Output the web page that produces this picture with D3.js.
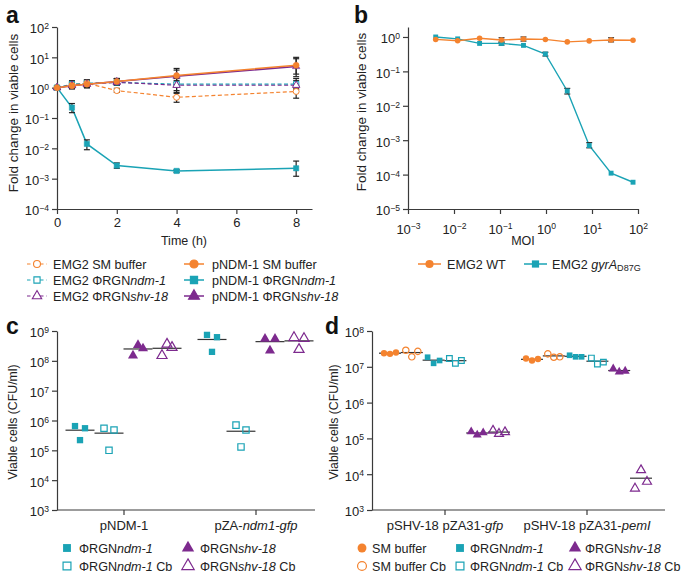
<!DOCTYPE html>
<html><head><meta charset="utf-8">
<script src="https://cdn.jsdelivr.net/npm/d3@7"></script>
<style>body{margin:0;background:#fff}svg{font-family:"Liberation Sans",Arial,Helvetica,sans-serif}</style>
</head><body>
<script>
// ---------- DATA ----------
// Panel a
const timeH = [0, 0.5, 1, 2, 4, 8];
const aEmg2SM    = [1, 1.2, 1.4, 0.8, 0.48, 0.75];
const aEmg2SMlo  = [1, 0.9, 1.0, 0.7, 0.33, 0.45];
const aEmg2SMhi  = [1, 1.6, 1.8, 0.95, 0.7, 1.2];
const aEmg2Ndm   = [1, 1.3, 1.4, 1.5, 1.3, 1.3];
const aEmg2NdmLo = [1, 1.0, 1.0, 1.2, 0.65, 0.9];
const aEmg2NdmHi = [1, 1.7, 1.8, 2.0, 2.0, 2.0];
const aEmg2Shv   = [1, 1.2, 1.3, 1.5, 1.2, 1.2];
const aEmg2ShvLo = [1, 0.95, 1.0, 1.2, 0.8, 0.9];
const aEmg2ShvHi = [1, 1.5, 1.7, 1.9, 1.7, 1.7];
const aPndmSM    = [1, 1.15, 1.3, 1.6, 2.5, 5.5];
const aPndmSMlo  = [1, 1.0, 1.1, 1.3, 1.5, 2.8];
const aPndmSMhi  = [1, 1.4, 1.6, 2.0, 4.3, 10];
const aPndmNdm   = [1, 0.22, 0.014, 0.0027, 0.0018, 0.0022];
const aPndmNdmLo = [1, 0.15, 0.009, 0.0022, 0.0016, 0.0012];
const aPndmNdmHi = [1, 0.3, 0.019, 0.0033, 0.002, 0.0038];
const aPndmShv   = [1, 1.15, 1.3, 1.6, 2.4, 5.0];
const aPndmShvLo = [1, 1.0, 1.1, 1.3, 1.3, 2.3];
const aPndmShvHi = [1, 1.4, 1.6, 2.0, 3.8, 9];
const aYTicks = [-4, -3, -2, -1, 0, 1, 2];
const aXTicks = [0, 2, 4, 6, 8];

// Panel b
const moi = [0.004, 0.012, 0.036, 0.108, 0.324, 0.97, 2.9, 8.7, 26, 78];
const bWT   = [0.85, 0.78, 0.92, 0.82, 0.87, 0.85, 0.72, 0.77, 0.82, 0.8];
const bWTlo = [null, null, null, 0.7, 0.76, null, null, null, 0.72, null];
const bWThi = [null, null, null, 0.95, 1.0, null, null, null, 0.95, null];
const bGyr   = [1.0, 0.88, 0.65, 0.65, 0.57, 0.32, 0.027, 0.0007, 0.00011, 0.00006];
const bGyrLo = [null, null, null, 0.58, null, 0.28, 0.022, 0.0006, null, null];
const bGyrHi = [null, null, null, 0.72, null, 0.36, 0.032, 0.00085, null, null];
const bYTicks = [-5, -4, -3, -2, -1, 0];
const bXTicks = [-3, -2, -1, 0, 1, 2];

// Panel c
const cCategories = ["pNDM-1", "pZA-ndm1-gfp"];
const cGroups = ["ΦRGNndm-1", "ΦRGNndm-1 Cb", "ΦRGNshv-18", "ΦRGNshv-18 Cb"];
const cNdm   = [[6.5e5, 2.2e5, 5.5e5], [7.4e8, 2.0e8, 6.2e8]];
const cNdmCb = [[5.5e5, 1.0e5, 4.8e5], [7.0e5, 1.3e5, 4.8e5]];
const cShv   = [[1.5e8, 3.4e8, 2.6e8], [5.5e8, 2.2e8, 5.5e8]];
const cShvCb = [[1.5e8, 3.6e8, 2.8e8], [6.0e8, 2.4e8, 5.6e8]];
const cYTicks = [3, 4, 5, 6, 7, 8, 9];

// Panel d
const dCategories = ["pSHV-18 pZA31-gfp", "pSHV-18 pZA31-pemI"];
const dGroups = ["SM buffer", "SM buffer Cb", "ΦRGNndm-1", "ΦRGNndm-1 Cb", "ΦRGNshv-18", "ΦRGNshv-18 Cb"];
const dSM    = [[2.4e7, 2.3e7, 2.5e7], [1.7e7, 1.5e7, 1.65e7]];
const dSMCb  = [[2.9e7, 1.9e7, 2.7e7], [2.3e7, 1.85e7, 1.9e7]];
const dNdm   = [[1.85e7, 1.25e7, 1.5e7], [2.1e7, 1.9e7, 1.9e7]];
const dNdmCb = [[1.7e7, 1.25e7, 1.5e7], [1.75e7, 1.2e7, 1.35e7]];
const dShv   = [[1.55e5, 1.25e5, 1.45e5], [8.8e6, 7.2e6, 7.6e6]];
const dShvCb = [[1.65e5, 1.35e5, 1.5e5], [4.0e3, 1.3e4, 6.2e3]];
const dYTicks = [3, 4, 5, 6, 7, 8];

// ---------- STYLE ----------
const ORANGE = "#f4832f", TEAL = "#1aa3b5", PURPLE = "#7d2a8e", AX = "#3a3a3a";
const FS = 13, LFS = 12.6;

const svg = d3.select("body").append("svg").attr("width", 684).attr("height", 576);

function supLabel(sel, exp) {
  sel.text(null);
  sel.append("tspan").text("10");
  sel.append("tspan").attr("dy", "-0.5em").attr("font-size", "0.66em").text(exp < 0 ? "−" + (-exp) : String(exp));
}
function styleAxis(g) {
  g.selectAll(".domain").attr("stroke", AX).attr("stroke-width", 1.2);
  g.selectAll(".tick line").attr("stroke", AX).attr("stroke-width", 1.2);
  g.selectAll(".tick text").attr("fill", "#222").attr("font-size", FS).attr("font-family", '"Liberation Sans",Arial,sans-serif');
}
function sym(type, size) { return d3.symbol().type(type).size(size)(); }
function richText(g, x, y, parts, opts = {}) {
  const t = g.append("text").attr("x", x).attr("y", y).attr("font-size", opts.fs || LFS).attr("fill", "#222");
  if (opts.anchor) t.attr("text-anchor", opts.anchor);
  parts.forEach(p => {
    const s = t.append("tspan").text(p.t);
    if (p.i) s.attr("font-style", "italic");
    if (p.sub) s.attr("font-size", "0.72em").attr("dy", "0.3em");
  });
  return t;
}
function panelLabel(x, y, s) {
  svg.append("text").attr("x", x).attr("y", y).attr("font-size", 23).attr("font-weight", "bold").attr("fill", "#111").text(s);
}
function yTitle(x, y, s, fs) {
  svg.append("text").attr("transform", `translate(${x},${y}) rotate(-90)`).attr("text-anchor", "middle")
    .attr("font-size", fs).attr("fill", "#222").text(s);
}

// ---------- PANEL A ----------
{
  const g = svg.append("g");
  const x = d3.scaleLinear().domain([0, 8.53]).range([57, 312]);
  const y = d3.scaleLog().domain([1e-4, 1e2]).range([209, 27]);
  const yA = g.append("g").attr("transform", "translate(57,0)")
    .call(d3.axisLeft(y).tickValues(aYTicks.map(e => Math.pow(10, e))).tickSize(5).tickSizeOuter(0).tickPadding(3));
  yA.selectAll(".tick text").each(function (d) { supLabel(d3.select(this), Math.round(Math.log10(d))); });
  styleAxis(yA);
  yA.selectAll(".tick text").attr("dy", "0.45em");
  const xA = g.append("g").attr("transform", "translate(0,209)")
    .call(d3.axisBottom(x).tickValues(aXTicks).tickSize(5).tickSizeOuter(0).tickPadding(4));
  styleAxis(xA);
  g.append("text").attr("x", 184).attr("y", 245).attr("text-anchor", "middle").attr("font-size", 12.5).attr("fill", "#222").text("Time (h)");

  const series = [
    { v: aEmg2Ndm, lo: aEmg2NdmLo, hi: aEmg2NdmHi, c: TEAL, dash: true, s: d3.symbolSquare, open: true },
    { v: aEmg2Shv, lo: aEmg2ShvLo, hi: aEmg2ShvHi, c: PURPLE, dash: true, s: d3.symbolTriangle, open: true },
    { v: aEmg2SM, lo: aEmg2SMlo, hi: aEmg2SMhi, c: ORANGE, dash: true, s: d3.symbolCircle, open: true },
    { v: aPndmNdm, lo: aPndmNdmLo, hi: aPndmNdmHi, c: TEAL, dash: false, s: d3.symbolSquare, open: false },
    { v: aPndmShv, lo: aPndmShvLo, hi: aPndmShvHi, c: PURPLE, dash: false, s: d3.symbolTriangle, open: false },
    { v: aPndmSM, lo: aPndmSMlo, hi: aPndmSMhi, c: ORANGE, dash: false, s: d3.symbolCircle, open: false },
  ];
  const line = d3.line().x((d, i) => x(timeH[i])).y(d => y(d));
  series.forEach(s => {
    g.append("path").datum(s.v).attr("d", line).attr("fill", "none").attr("stroke", s.c)
      .attr("stroke-width", s.dash ? 1.2 : 1.5).attr("stroke-dasharray", s.dash ? "4,2.5" : null);
  });
  series.forEach(s => {
    timeH.forEach((t, i) => {
      if (i === 0) return;
      const xx = x(t);
      g.append("line").attr("x1", xx).attr("x2", xx).attr("y1", y(s.lo[i])).attr("y2", y(s.hi[i])).attr("stroke", "#222").attr("stroke-width", 1.2);
      [s.lo[i], s.hi[i]].forEach(v => g.append("line").attr("x1", xx - 3).attr("x2", xx + 3).attr("y1", y(v)).attr("y2", y(v)).attr("stroke", "#222").attr("stroke-width", 1.2));
    });
  });
  series.forEach(s => {
    g.selectAll(null).data(s.v).enter().append("path")
      .attr("transform", (d, i) => `translate(${x(timeH[i])},${y(d)})`)
      .attr("d", sym(s.s, s.s === d3.symbolTriangle ? 24 : 28))
      .attr("fill", s.open ? "#fff" : s.c).attr("stroke", s.c).attr("stroke-width", s.open ? 1 : 0.5);
  });

  // legend
  const lg = svg.append("g");
  const cols = [{ lx: 27, tx: 53 }, { lx: 184, tx: 212 }];
  const items = [
    { c: ORANGE, s: d3.symbolCircle, open: true, parts: [{ t: "EMG2 SM buffer" }] },
    { c: TEAL, s: d3.symbolSquare, open: true, parts: [{ t: "EMG2 ΦRGN" }, { t: "ndm-1", i: 1 }] },
    { c: PURPLE, s: d3.symbolTriangle, open: true, parts: [{ t: "EMG2 ΦRGN" }, { t: "shv-18", i: 1 }] },
    { c: ORANGE, s: d3.symbolCircle, open: false, parts: [{ t: "pNDM-1 SM buffer" }] },
    { c: TEAL, s: d3.symbolSquare, open: false, parts: [{ t: "pNDM-1 ΦRGN" }, { t: "ndm-1", i: 1 }] },
    { c: PURPLE, s: d3.symbolTriangle, open: false, parts: [{ t: "pNDM-1 ΦRGN" }, { t: "shv-18", i: 1 }] },
  ];
  items.forEach((it, k) => {
    const col = cols[Math.floor(k / 3)], yy = 264 + (k % 3) * 16;
    lg.append("line").attr("x1", col.lx).attr("x2", col.lx + 20).attr("y1", yy).attr("y2", yy).attr("stroke", it.c)
      .attr("stroke-width", it.open ? 1.2 : 1.5).attr("stroke-dasharray", it.open ? "3.5,3" : null);
    lg.append("path").attr("transform", `translate(${col.lx + 10},${yy})`).attr("d", sym(it.s, it.open ? 38 : 52))
      .attr("fill", it.open ? "#fff" : it.c).attr("stroke", it.c).attr("stroke-width", 1.1);
    richText(lg, col.tx, yy + 4.5, it.parts);
  });
}

// ---------- PANEL B ----------
{
  const g = svg.append("g");
  const x = d3.scaleLog().domain([1e-3, 1e2]).range([408, 638]);
  const y = d3.scaleLog().domain([1e-5, Math.pow(10, 0.29)]).range([209, 27]);
  const yA = g.append("g").attr("transform", "translate(408,0)")
    .call(d3.axisLeft(y).tickValues(bYTicks.map(e => Math.pow(10, e))).tickSize(5).tickSizeOuter(0).tickPadding(3));
  yA.selectAll(".tick text").each(function (d) { supLabel(d3.select(this), Math.round(Math.log10(d))); });
  styleAxis(yA);
  yA.selectAll(".tick text").attr("dy", "0.45em");
  const xA = g.append("g").attr("transform", "translate(0,209)")
    .call(d3.axisBottom(x).tickValues(bXTicks.map(e => Math.pow(10, e))).tickSize(5).tickSizeOuter(0).tickPadding(4));
  xA.selectAll(".tick text").each(function (d) { supLabel(d3.select(this), Math.round(Math.log10(d))); });
  styleAxis(xA);
  xA.selectAll(".tick text").attr("dy", "1.2em");
  g.append("text").attr("x", 523).attr("y", 245).attr("text-anchor", "middle").attr("font-size", 12.5).attr("fill", "#222").text("MOI");

  const line = d3.line().x((d, i) => x(moi[i])).y(d => y(d));
  const ser = [
    { v: bGyr, lo: bGyrLo, hi: bGyrHi, c: TEAL, s: d3.symbolSquare },
    { v: bWT, lo: bWTlo, hi: bWThi, c: ORANGE, s: d3.symbolCircle },
  ];
  ser.forEach(s => g.append("path").datum(s.v).attr("d", line).attr("fill", "none").attr("stroke", s.c).attr("stroke-width", 1.4));
  ser.forEach(s => moi.forEach((m, i) => {
    if (s.lo[i] == null) return;
    const xx = x(m);
    g.append("line").attr("x1", xx).attr("x2", xx).attr("y1", y(s.lo[i])).attr("y2", y(s.hi[i])).attr("stroke", "#333").attr("stroke-width", 1.2);
    [s.lo[i], s.hi[i]].forEach(v => g.append("line").attr("x1", xx - 3).attr("x2", xx + 3).attr("y1", y(v)).attr("y2", y(v)).attr("stroke", "#333").attr("stroke-width", 1.2));
  }));
  ser.forEach(s => g.selectAll(null).data(s.v).enter().append("path")
    .attr("transform", (d, i) => `translate(${x(moi[i])},${y(d)})`)
    .attr("d", sym(s.s, 24)).attr("fill", s.c));

  const lg = svg.append("g");
  const yy = 264;
  [{ lx: 418, tx: 447, c: ORANGE, s: d3.symbolCircle, parts: [{ t: "EMG2 WT" }] },
   { lx: 524, tx: 552, c: TEAL, s: d3.symbolSquare, parts: [{ t: "EMG2 " }, { t: "gyrA", i: 1 }, { t: "D87G", sub: 1 }] }]
    .forEach(it => {
      lg.append("line").attr("x1", it.lx).attr("x2", it.lx + 23).attr("y1", yy).attr("y2", yy).attr("stroke", it.c).attr("stroke-width", 1.5);
      lg.append("path").attr("transform", `translate(${it.lx + 11.5},${yy})`).attr("d", sym(it.s, 52)).attr("fill", it.c);
      richText(lg, it.tx, yy + 4.5, it.parts);
    });
}

// ---------- DOT PLOTS ----------
function dotPanel(opt) {
  const g = svg.append("g");
  const y = d3.scaleLog().domain(opt.ydom).range([510, 331]);
  const x = d3.scalePoint().domain(opt.cats).range(opt.catRange);
  const gx = d3.scalePoint().domain(opt.groups).range(opt.grpRange);
  const yA = g.append("g").attr("transform", `translate(${opt.x0},0)`)
    .call(d3.axisLeft(y).tickValues(opt.yticks.map(e => Math.pow(10, e))).tickSize(5).tickSizeOuter(0).tickPadding(3));
  yA.selectAll(".tick text").each(function (d) { supLabel(d3.select(this), Math.round(Math.log10(d))); });
  styleAxis(yA);
  yA.selectAll(".tick text").attr("dy", "0.45em");
  g.append("line").attr("x1", opt.x0).attr("x2", opt.x1).attr("y1", 510).attr("y2", 510).attr("stroke", AX).attr("stroke-width", 1.2);
  opt.cats.forEach((c, ci) => {
    g.append("line").attr("x1", x(c)).attr("x2", x(c)).attr("y1", 510).attr("y2", 515).attr("stroke", AX).attr("stroke-width", 1.2);
    richText(g, x(c), 530, opt.catParts[ci], { anchor: "middle", fs: 13 });
  });
  opt.series.forEach((s, si) => {
    opt.cats.forEach((c, ci) => {
      const vals = s.v[ci];
      const cx = x(c) + gx(opt.groups[si]);
      const mean = d3.mean(vals);
      g.append("line").attr("x1", cx - opt.mw / 2).attr("x2", cx + opt.mw / 2).attr("y1", y(mean)).attr("y2", y(mean))
        .attr("stroke", "#333").attr("stroke-width", 1.2);
      vals.forEach((v, k) => {
        g.append("path").attr("transform", `translate(${cx + (k - 1) * opt.jit},${y(v)})`)
          .attr("d", sym(s.s, s.s === d3.symbolTriangle ? opt.msz * 1.1 : opt.msz))
          .attr("fill", s.open ? "none" : s.c).attr("stroke", s.c).attr("stroke-width", s.open ? 1.2 : 0);
      });
    });
  });
  opt.legend.forEach((it, k) => {
    const col = opt.legCols[Math.floor(k / 2)], yy = 548 + (k % 2) * 18;
    g.append("path").attr("transform", `translate(${col.mx},${yy})`).attr("d", sym(it.s, it.s === d3.symbolTriangle ? 66 : 62))
      .attr("fill", it.open ? "#fff" : it.c).attr("stroke", it.c).attr("stroke-width", it.open ? 1.2 : 0);
    richText(g, col.tx, yy + 4.5, it.parts);
  });
}

panelLabel(6, 23, "a");
panelLabel(354, 23, "b");
panelLabel(6, 334, "c");
panelLabel(325, 334, "d");
yTitle(18, 113, "Fold change in viable cells", 13.5);
yTitle(366, 112, "Fold change in viable cells", 13.5);
yTitle(17, 422, "Viable cells (CFU/ml)", 12.3);
yTitle(338, 422, "Viable cells (CFU/ml)", 12.3);

dotPanel({
  ydom: [1e3, 1e9], yticks: cYTicks, x0: 57, x1: 315, cats: cCategories, catRange: [124, 256],
  groups: cGroups, grpRange: [-44, 43], mw: 29, jit: 5, msz: 40,
  catParts: [[{ t: "pNDM-1" }], [{ t: "pZA-" }, { t: "ndm1-gfp", i: 1 }]],
  series: [
    { v: cNdm, c: TEAL, s: d3.symbolSquare, open: false },
    { v: cNdmCb, c: TEAL, s: d3.symbolSquare, open: true },
    { v: cShv, c: PURPLE, s: d3.symbolTriangle, open: false },
    { v: cShvCb, c: PURPLE, s: d3.symbolTriangle, open: true },
  ],
  legCols: [{ mx: 67, tx: 79 }, { mx: 188, tx: 200 }],
  legend: [
    { c: TEAL, s: d3.symbolSquare, open: false, parts: [{ t: "ΦRGN" }, { t: "ndm-1", i: 1 }] },
    { c: TEAL, s: d3.symbolSquare, open: true, parts: [{ t: "ΦRGN" }, { t: "ndm-1", i: 1 }, { t: " Cb" }] },
    { c: PURPLE, s: d3.symbolTriangle, open: false, parts: [{ t: "ΦRGN" }, { t: "shv-18", i: 1 }] },
    { c: PURPLE, s: d3.symbolTriangle, open: true, parts: [{ t: "ΦRGN" }, { t: "shv-18", i: 1 }, { t: " Cb" }] },
  ],
});

dotPanel({
  ydom: [1e3, 1e8], yticks: dYTicks, x0: 372, x1: 665, cats: dCategories, catRange: [445, 587],
  groups: dGroups, grpRange: [-55, 54], mw: 22, jit: 6, msz: 32,
  catParts: [[{ t: "pSHV-18 pZA31-" }, { t: "gfp", i: 1 }], [{ t: "pSHV-18 pZA31-" }, { t: "pemI", i: 1 }]],
  series: [
    { v: dSM, c: ORANGE, s: d3.symbolCircle, open: false },
    { v: dSMCb, c: ORANGE, s: d3.symbolCircle, open: true },
    { v: dNdm, c: TEAL, s: d3.symbolSquare, open: false },
    { v: dNdmCb, c: TEAL, s: d3.symbolSquare, open: true },
    { v: dShv, c: PURPLE, s: d3.symbolTriangle, open: false },
    { v: dShvCb, c: PURPLE, s: d3.symbolTriangle, open: true },
  ],
  legCols: [{ mx: 362, tx: 372 }, { mx: 460, tx: 470 }, { mx: 575, tx: 585 }],
  legend: [
    { c: ORANGE, s: d3.symbolCircle, open: false, parts: [{ t: "SM buffer" }] },
    { c: ORANGE, s: d3.symbolCircle, open: true, parts: [{ t: "SM buffer Cb" }] },
    { c: TEAL, s: d3.symbolSquare, open: false, parts: [{ t: "ΦRGN" }, { t: "ndm-1", i: 1 }] },
    { c: TEAL, s: d3.symbolSquare, open: true, parts: [{ t: "ΦRGN" }, { t: "ndm-1", i: 1 }, { t: " Cb" }] },
    { c: PURPLE, s: d3.symbolTriangle, open: false, parts: [{ t: "ΦRGN" }, { t: "shv-18", i: 1 }] },
    { c: PURPLE, s: d3.symbolTriangle, open: true, parts: [{ t: "ΦRGN" }, { t: "shv-18", i: 1 }, { t: " Cb" }] },
  ],
});
</script>
</body></html>
